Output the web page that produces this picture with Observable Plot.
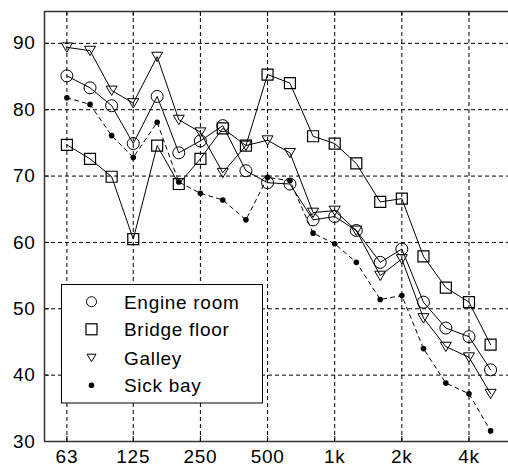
<!DOCTYPE html>
<html><head><meta charset="utf-8">
<script src="https://cdn.jsdelivr.net/npm/d3@7"></script>
<script src="https://cdn.jsdelivr.net/npm/@observablehq/plot@0.6"></script>
<style>
html,body{margin:0;padding:0;background:#fff;}
#wrap{position:relative;width:508px;height:471px;overflow:hidden;font-family:"Liberation Sans",Arial,sans-serif;}
</style>
</head><body>
<div id="wrap"></div>
<script>
const freqs = [63, 80, 100, 125, 160, 200, 250, 315, 400, 500, 630, 800, 1000, 1250, 1600, 2000, 2500, 3150, 4000, 5000];
const engineRoom  = [85.1, 83.3, 80.6, 74.9, 82.0, 73.5, 75.3, 77.6, 70.8, 69.0, 68.8, 63.4, 63.9, 61.8, 57.0, 59.0, 51.0, 47.1, 45.8, 40.8];
const bridgeFloor = [74.7, 72.6, 69.9, 60.5, 74.6, 68.8, 72.6, 77.2, 74.6, 85.3, 84.0, 76.0, 74.9, 71.9, 66.1, 66.6, 57.9, 53.2, 51.0, 44.6];
const galley      = [89.4, 88.9, 82.9, 81.0, 88.0, 78.5, 76.6, 70.5, 74.6, 75.4, 73.5, 64.5, 64.8, 61.8, 55.0, 57.5, 48.6, 44.3, 42.7, 37.2];
const sickBay     = [81.8, 80.8, 76.1, 72.8, 78.1, 69.1, 67.4, 66.4, 63.4, 69.8, 69.3, 61.4, 59.8, 57.0, 51.4, 52.0, 44.0, 38.8, 37.2, 31.6];
const seriesNames = ["Engine room", "Bridge floor", "Galley", "Sick bay"];
const xTickValues = [63, 125, 250, 500, 1000, 2000, 4000];
const xTickLabels = ["63", "125", "250", "500", "1k", "2k", "4k"];
const yTickValues = [30, 40, 50, 60, 70, 80, 90];
const xDomain = [50, 6015];
const yDomain = [30, 94.8];

const seriesValues = [engineRoom, bridgeFloor, galley, sickBay];
const rows = seriesNames.flatMap((name, s) => freqs.map((f, i) => ({series: name, f, v: seriesValues[s][i]})));
const bySeries = name => rows.filter(d => d.series === name);
const xTicks = xTickValues.map((v, i) => ({v, label: xTickLabels[i]}));

const triDown = {
  draw(ctx, size) {
    const r = Math.sqrt(size / Math.PI);
    ctx.moveTo(-r, -r * 0.8);
    ctx.lineTo(r, -r * 0.8);
    ctx.lineTo(0, r * 0.9);
    ctx.closePath();
  }
};

const W = 508, H = 471, mL = 44, mR = 0, mT = 11, mB = 30;
const plotW = W - mL - mR, plotH = H - mT - mB, tick = 5;
const font = '"Liberation Sans", Arial, sans-serif';
const gridStyle = {stroke: "#000", strokeOpacity: 1, strokeWidth: 1, strokeDasharray: "4,3"};
const frameStroke = {stroke: "#333", strokeWidth: 1.5};

const chart = Plot.plot({
  width: W, height: H,
  marginLeft: mL, marginRight: mR, marginTop: mT, marginBottom: mB,
  x: {type: "log", domain: xDomain, label: null, axis: null},
  y: {domain: yDomain, label: null, axis: null},
  style: {fontFamily: font, fontSize: "19px", color: "#000", background: "#fff", letterSpacing: "0.7px"},
  marks: [
    Plot.gridX(xTickValues, gridStyle),
    Plot.gridY(yTickValues.filter(v => v > yDomain[0]), gridStyle),
    // inward tick marks
    Plot.ruleX(xTickValues, {stroke: "#000", insetTop: plotH - tick}),
    Plot.ruleX(xTickValues, {stroke: "#000", insetBottom: plotH - tick}),
    Plot.ruleY(yTickValues, {stroke: "#000", insetRight: plotW - tick}),
    // tick labels
    Plot.text(xTicks, {x: "v", text: "label", frameAnchor: "bottom", lineAnchor: "top", dy: 8, fill: "#000"}),
    Plot.text(yTickValues, {y: d => d, text: d => String(d), frameAnchor: "left", textAnchor: "end", dx: -9, fill: "#000"}),
    // frame
    Plot.ruleX([xDomain[0]], frameStroke),
    Plot.ruleY([yDomain[0]], frameStroke),
    Plot.ruleY([yDomain[1]], frameStroke),
    // series
    Plot.line(bySeries("Engine room"), {x: "f", y: "v", stroke: "#000", strokeWidth: 1}),
    Plot.line(bySeries("Bridge floor"), {x: "f", y: "v", stroke: "#000", strokeWidth: 1}),
    Plot.line(bySeries("Galley"), {x: "f", y: "v", stroke: "#000", strokeWidth: 1}),
    Plot.line(bySeries("Sick bay"), {x: "f", y: "v", stroke: "#000", strokeWidth: 1, strokeDasharray: "4,4"}),
    Plot.dot(bySeries("Engine room"), {x: "f", y: "v", symbol: "circle", r: 6, stroke: "#000", fill: "none", strokeWidth: 1}),
    Plot.dot(bySeries("Bridge floor"), {x: "f", y: "v", symbol: "square", r: 6.2, stroke: "#000", fill: "none", strokeWidth: 1.2}),
    Plot.dot(bySeries("Galley"), {x: "f", y: "v", symbol: triDown, r: 5.5, stroke: "#000", fill: "none", strokeWidth: 1}),
    Plot.dot(bySeries("Sick bay"), {x: "f", y: "v", symbol: "circle", r: 2.8, fill: "#000", stroke: "none"})
  ]
});
const wrap = document.getElementById("wrap");
wrap.appendChild(chart);

// legend overlay (inside the plot area, lower left)
const lg = d3.select(wrap).append("svg").attr("width", W).attr("height", H)
  .style("position", "absolute").style("left", "0px").style("top", "0px");
lg.append("rect").attr("x", 61.5).attr("y", 284.5).attr("width", 201).attr("height", 118.5)
  .attr("fill", "#fff").attr("stroke", "#000").attr("stroke-width", 1);
const rowsY = [301.7, 329.3, 357.7, 385.3];
const mx = 91.5;
lg.append("circle").attr("cx", mx).attr("cy", rowsY[0]).attr("r", 5).attr("fill", "none").attr("stroke", "#000");
lg.append("rect").attr("x", mx - 5.5).attr("y", rowsY[1] - 5.5).attr("width", 11).attr("height", 11).attr("fill", "none").attr("stroke", "#000").attr("stroke-width", 1.2);
lg.append("path").attr("d", `M${mx-4.5},${rowsY[2]-3.5}L${mx+4.5},${rowsY[2]-3.5}L${mx},${rowsY[2]+4}Z`).attr("fill", "none").attr("stroke", "#000");
lg.append("circle").attr("cx", mx).attr("cy", rowsY[3]).attr("r", 2.8).attr("fill", "#000");
seriesNames.forEach((name, i) => {
  lg.append("text").attr("x", 124).attr("y", rowsY[i]).attr("dy", "0.36em")
    .style("font-family", font).style("font-size", "19px").style("letter-spacing", "0.7px")
    .attr("fill", "#000").text(name);
});
</script>
</body></html>
